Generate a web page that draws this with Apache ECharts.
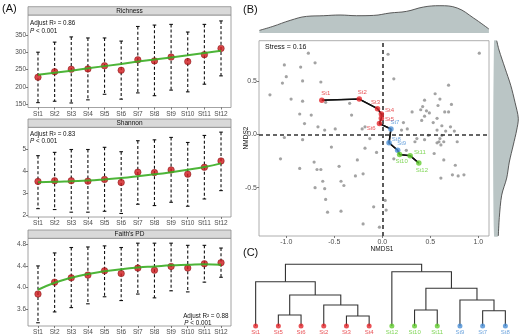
<!DOCTYPE html>
<html>
<head>
<meta charset="utf-8">
<script src="https://cdn.jsdelivr.net/npm/echarts@6/dist/echarts.min.js"></script>
<style>
  html, body { margin: 0; padding: 0; background: #fff; }
  #chart { width: 520px; height: 336px; }
</style>
</head>
<body>
<div id="chart"></div>
<script>
// ---- data ----
const sites = ['St1', 'St2', 'St3', 'St4', 'St5', 'St6', 'St7', 'St8', 'St9', 'St10', 'St11', 'St12']
const siteGroup = [0, 0, 0, 0, 0, 0, 1, 1, 1, 2, 2, 2]

const richMean = [228, 244, 251, 252, 261, 248, 278, 275, 286, 273, 293, 311]
const richLow = [155, 159, 154, 163, 179, 165, 183, 175, 191, 186, 208, 232]
const richHigh = [300, 329, 344, 341, 341, 332, 374, 378, 380, 358, 380, 390]
const richFit = [235, 241, 247, 254, 260, 266, 273, 279, 285, 291, 298, 304]
const richTicks = [150, 200, 250, 300, 350]

const shanMean = [3.53, 3.56, 3.56, 3.54, 3.62, 3.48, 3.95, 3.93, 4.05, 3.86, 4.17, 4.46]
const shanLow = [2.29, 2.25, 2.13, 2.13, 2.17, 2.07, 2.49, 2.43, 2.58, 2.40, 2.73, 3.11]
const shanHigh = [4.70, 4.85, 4.98, 4.98, 5.08, 4.88, 5.38, 5.42, 5.53, 5.30, 5.62, 5.77]
const shanFit = [3.49, 3.51, 3.54, 3.57, 3.62, 3.68, 3.76, 3.85, 3.95, 4.06, 4.18, 4.35]
const shanTicks = [2, 3, 4, 5]

const pdMean = [3.88, 4.10, 4.18, 4.23, 4.31, 4.26, 4.36, 4.32, 4.39, 4.36, 4.44, 4.46]
const pdLow = [3.35, 3.55, 3.63, 3.70, 3.83, 3.76, 3.88, 3.81, 3.94, 3.92, 4.10, 4.19]
const pdHigh = [4.40, 4.64, 4.74, 4.75, 4.77, 4.74, 4.82, 4.82, 4.82, 4.78, 4.78, 4.73]
const pdFit = [3.96, 4.09, 4.18, 4.25, 4.30, 4.34, 4.37, 4.39, 4.41, 4.42, 4.43, 4.42]
const pdTicks = [3.6, 4.0, 4.4, 4.8]

// NMDS samples (gray)
const nmdsPts = [
  [-0.77, 0.76], [-1.02, 0.65], [-0.70, 0.67], [-0.85, 0.63], [-1.00, 0.54], [-0.83, 0.50],
  [-1.04, 0.48], [-0.64, 0.49], [-1.17, 0.37], [-0.95, 0.33], [-0.83, 0.31], [-0.86, 0.19],
  [-0.74, 0.18], [-0.59, 0.30], [-0.34, 0.29], [-0.32, 0.18], [-0.81, 0.10], [-0.67, 0.07],
  [-0.60, 0.04], [-0.49, 0.05], [-0.21, 0.05], [-0.18, 0.07],
  [0.06, 0.75], [0.12, 0.52], [1.01, 0.76], [0.69, 0.46], [0.55, 0.38], [0.60, 0.33],
  [0.44, 0.32], [0.72, 0.28], [0.58, 0.27], [0.42, 0.26], [0.40, 0.23], [0.31, 0.21],
  [0.46, 0.22], [0.65, 0.21], [0.69, 0.21], [0.49, 0.20], [0.44, 0.17], [0.57, 0.15],
  [0.41, 0.13], [0.53, 0.11], [0.22, 0.11], [0.62, 0.08], [0.71, 0.07], [0.57, 0.04],
  [0.66, 0.03], [0.75, 0.03], [0.20, 0.04], [0.26, 0.05], [0.48, -0.01], [0.62, -0.01],
  [0.44, -0.05], [0.60, -0.04], [0.64, -0.07], [0.57, -0.08], [0.78, -0.07], [0.36, -0.04],
  [0.34, -0.07], [0.54, -0.18], [0.64, -0.24], [0.76, -0.29], [0.73, -0.38], [0.79, -0.39],
  [0.85, -0.38], [0.61, -0.41], [0.25, -0.15], [0.12, -0.23], [0.03, -0.62], [0.04, -0.71],
  [0.59, -0.07], [0.61, -0.10],
  [-1.02, -0.03], [-0.83, -0.05], [-1.06, -0.23], [-0.53, -0.12], [-0.71, -0.26], [-0.86, -0.32],
  [-0.68, -0.33], [-0.64, -0.33], [-0.45, -0.30], [-0.26, -0.24], [-0.18, -0.13], [-0.13, -0.04],
  [-0.06, -0.17], [-0.28, -0.39], [-0.20, -0.37], [-0.62, -0.44], [-0.43, -0.44], [-0.40, -0.48],
  [-0.70, -0.50], [-0.60, -0.51], [-0.59, -0.61], [-0.09, -0.68], [-0.57, -0.73], [-0.43, -0.72],
  [-0.20, -0.84], [-0.03, -0.87]
]
// site centroids (trajectory)
const trajX = [-0.63, -0.24, -0.05, -0.01, -0.01, -0.03, 0.09, 0.07, 0.16, 0.18, 0.29, 0.38]
const trajY = [0.32, 0.33, 0.24, 0.19, 0.15, 0.10, 0.05, -0.08, -0.15, -0.19, -0.20, -0.27]

// marginal densities
const topDensX = [-1.28, -1.14, -0.96, -0.79, -0.61, -0.44, -0.27, -0.09, 0.08, 0.25, 0.43, 0.60, 0.78, 0.95, 1.11]
const topDensH = [2.6, 6.6, 12.6, 16.6, 17.3, 18, 17.3, 17.6, 20, 21.6, 26, 27.3, 25, 15, 4]
const sideDensY = [0.877, 0.79, 0.62, 0.46, 0.30, 0.15, 0.04, -0.10, -0.26, -0.41, -0.57, -0.78, -0.953]
const sideDensW = [2.7, 5, 11, 16.7, 21, 24.3, 22.7, 19.3, 15.3, 12.7, 7.7, 5.3, 4.3]

// dendrogram
const leafOrder = ['St1', 'St5', 'St6', 'St2', 'St3', 'St4', 'St12', 'St10', 'St11', 'St9', 'St7', 'St8']
const merges = [['St5', 'St6'], ['St3', 'St4'], ['St2', 'm2'], ['m1', 'm3'], ['St1', 'm4'],
  ['St10', 'St11'], ['St7', 'St8'], ['St9', 'm7'], ['m6', 'm8'], ['St12', 'm9'], ['m5', 'm10']]
const mergeHeight = [0.178, 0.162, 0.340, 0.502, 0.718, 0.259, 0.248, 0.421, 0.611, 0.880, 1.0]

// ---- styling ----
const FONT = 'Liberation Sans, Arial, sans-serif'
const groupColors = ['#e3262b', '#4a8fd6', '#62cc2e']
const colorOf = (s) => groupColors[siteGroup[sites.indexOf(s)]]

const chart = echarts.init(document.getElementById('chart'))

const grids = []
const xAxes = []
const yAxes = []
const series = []
const graphic = []

function txt(x, y, text, size, opts = {}) {
  graphic.push({
    type: 'text', x, y, rotation: opts.rotation || 0,
    style: {
      text, fontSize: size, fontFamily: FONT, fill: opts.color || '#111',
      align: opts.align || 'left', verticalAlign: 'middle',
      textAlign: opts.align || 'left', textVerticalAlign: 'middle',
      rich: opts.rich
    }
  })
}

// ---- panel A ----
const panelsA = [
  { name: 'Richness', top: 15, height: 92.5, min: 141, max: 407, ticks: richTicks, mean: richMean, low: richLow, high: richHigh, fit: richFit, smooth: false, r2: '0.86', fmt: (v) => String(v) },
  { name: 'Shannon', top: 127.3, height: 89.7, min: 1.91, max: 5.99, ticks: shanTicks, mean: shanMean, low: shanLow, high: shanHigh, fit: shanFit, smooth: true, r2: '0.83', fmt: (v) => String(v) },
  { name: "Faith's PD", top: 238.3, height: 89.7, min: 3.29, max: 4.91, ticks: pdTicks, mean: pdMean, low: pdLow, high: pdHigh, fit: pdFit, smooth: true, r2: '0.88', fmt: (v) => v.toFixed(1) }
]
const A_LEFT = 28, A_W = 203
const siteIdx = sites.map((s, i) => i + 1)
const richAnno = {
  n: { fontSize: 6.3, fontFamily: FONT, fill: '#111' },
  i: { fontSize: 6.3, fontFamily: FONT, fill: '#111', fontStyle: 'italic' }
}

panelsA.forEach((p, gi) => {
  grids.push({ left: A_LEFT, top: p.top, width: A_W, height: p.height, show: true, borderColor: '#8c8c8c', borderWidth: 0.8, backgroundColor: '#fff' })
  xAxes.push({
    gridIndex: gi, type: 'value', min: 0.4, max: 12.6,
    axisLine: { show: false, onZero: false },
    axisTick: { show: true, length: 2, customValues: siteIdx, lineStyle: { color: '#444', width: 0.7 } },
    axisLabel: { customValues: siteIdx, formatter: (v) => 'St' + v, fontSize: 6.5, fontFamily: FONT, color: '#4d4d4d', margin: 3 },
    splitLine: { show: false }
  })
  yAxes.push({
    gridIndex: gi, type: 'value', min: p.min, max: p.max,
    axisLine: { show: false, onZero: false },
    axisTick: { show: true, length: 2, customValues: p.ticks, lineStyle: { color: '#444', width: 0.7 } },
    axisLabel: { customValues: p.ticks, formatter: p.fmt, fontSize: 6.5, fontFamily: FONT, color: '#4d4d4d', margin: 2 },
    splitLine: { show: false }
  })
  series.push({
    type: 'custom', xAxisIndex: gi, yAxisIndex: gi, silent: true, z: 2,
    data: siteIdx.map((x, i) => [x, p.low[i], p.high[i]]),
    encode: { x: 0, y: [1, 2] },
    renderItem: (params, api) => {
      const t = api.coord([api.value(0), api.value(2)])
      const b = api.coord([api.value(0), api.value(1)])
      const st = { stroke: '#111', lineWidth: 1.1 }
      return {
        type: 'group', children: [
          { type: 'line', shape: { x1: t[0], y1: t[1], x2: b[0], y2: b[1] }, style: { ...st, lineDash: [3, 2.2] } },
          { type: 'line', shape: { x1: t[0] - 1.8, y1: t[1], x2: t[0] + 1.8, y2: t[1] }, style: st },
          { type: 'line', shape: { x1: b[0] - 1.8, y1: b[1], x2: b[0] + 1.8, y2: b[1] }, style: st }
        ]
      }
    }
  })
  series.push({
    type: 'scatter', xAxisIndex: gi, yAxisIndex: gi, z: 3, silent: true,
    symbolSize: 6.5,
    itemStyle: { color: '#d0181c', borderColor: '#7a0d0d', borderWidth: 0.6 },
    data: siteIdx.map((x, i) => [x, p.mean[i]])
  })
  series.push({
    type: 'line', xAxisIndex: gi, yAxisIndex: gi, z: 4, silent: true,
    smooth: p.smooth, symbol: 'none',
    lineStyle: { color: '#3aad22', width: 2, opacity: 0.9 },
    data: siteIdx.map((x, i) => [x, p.fit[i]])
  })
  // strip header
  graphic.push({ type: 'rect', shape: { x: A_LEFT, y: p.top - 8.3, width: A_W, height: 8.3 }, style: { fill: '#d9d9d9', stroke: '#8c8c8c', lineWidth: 0.8 } })
  txt(A_LEFT + A_W / 2, p.top - 4.1, p.name, 6.5, { align: 'center' })
})
// R² annotations
txt(30, 23.7, '{n|Adjust R² = 0.86}', 6.3, { rich: richAnno })
txt(30, 31, '{i|P}{n| < 0.001}', 6.3, { rich: richAnno })
txt(30, 134.3, '{n|Adjust R² = 0.83}', 6.3, { rich: richAnno })
txt(30, 141.7, '{i|P}{n| < 0.001}', 6.3, { rich: richAnno })
txt(228.5, 316, '{n|Adjust R² = 0.88}', 6.3, { rich: richAnno, align: 'right' })
txt(184.3, 323.3, '{i|P}{n| < 0.001}', 6.3, { rich: richAnno })

// ---- panel B ----
const bX = [-1, -0.5, 0, 0.5, 1]
const bY = [-0.5, 0, 0.5]
const xMin = -1.284, xMax = 1.111, yMin = -0.953, yMax = 0.877
const gS = grids.length
grids.push({ left: 259, top: 40.7, width: 230, height: 195.3, show: true, borderColor: '#9a9a9a', borderWidth: 0.8, backgroundColor: '#fff' })
xAxes.push({
  gridIndex: gS, type: 'value', min: xMin, max: xMax,
  axisLine: { show: false, onZero: false },
  axisTick: { show: true, length: 2, customValues: bX, lineStyle: { color: '#444', width: 0.7 } },
  axisLabel: { customValues: bX, formatter: (v) => v.toFixed(1), fontSize: 7, fontFamily: FONT, color: '#4d4d4d', margin: 3 },
  splitLine: { show: false }
})
yAxes.push({
  gridIndex: gS, type: 'value', min: yMin, max: yMax,
  axisLine: { show: false, onZero: false },
  axisTick: { show: true, length: 2, customValues: bY, lineStyle: { color: '#444', width: 0.7 } },
  axisLabel: { customValues: bY, formatter: (v) => v.toFixed(1), fontSize: 7, fontFamily: FONT, color: '#4d4d4d', margin: 2 },
  splitLine: { show: false }
})
series.push({
  type: 'scatter', xAxisIndex: gS, yAxisIndex: gS, z: 2, silent: true,
  symbolSize: 3.2, itemStyle: { color: '#8c8c8c' },
  data: nmdsPts,
  markLine: {
    silent: true, symbol: 'none', label: { show: false },
    lineStyle: { type: [4, 3], color: '#333', width: 1.6 },
    data: [{ xAxis: 0 }, { yAxis: 0 }]
  }
})
series.push({
  type: 'line', xAxisIndex: gS, yAxisIndex: gS, z: 3, silent: true,
  symbol: 'none', lineStyle: { color: '#111', width: 1.5 },
  data: trajX.map((x, i) => [x, trajY[i]]),
  markLine: {
    silent: true, symbol: ['none', 'arrow'], symbolSize: [0, 4.5], label: { show: false },
    lineStyle: { type: 'solid', color: '#111', width: 1.3 },
    data: trajX.slice(1).map((x, i) => [{ coord: [trajX[i], trajY[i]] }, { coord: [x, trajY[i + 1]] }])
  }
})
// label placement for the trajectory points
const labelPos = [
  ['top', [4, 0]], ['top', [3, 0]], ['top', [-2, 0]], ['right', [0, -4]], ['right', [0, 1]], ['left', [0, 5]],
  ['top', [4, 0]], ['right', [-1, -3]], ['top', [4, 0]], ['bottom', [2, 0]], ['right', [0, -3]], ['bottom', [3, 0]]
]
series.push({
  type: 'scatter', xAxisIndex: gS, yAxisIndex: gS, z: 5, silent: true,
  symbolSize: 5.5,
  data: sites.map((s, i) => ({
    value: [trajX[i], trajY[i]], name: s,
    itemStyle: { color: colorOf(s) },
    label: { position: labelPos[i][0], offset: labelPos[i][1], color: colorOf(s) }
  })),
  label: { show: true, formatter: '{b}', fontSize: 6, fontFamily: FONT, distance: 1 }
})
txt(265, 47, 'Stress = 0.16', 7)
txt(382, 249.5, 'NMDS1', 6.5, { align: 'center' })
txt(246, 138, 'NMDS2', 6.5, { align: 'center', rotation: Math.PI / 2 })

// top density
const gT = grids.length
grids.push({ left: 259, top: 5, width: 230, height: 28 })
xAxes.push({ gridIndex: gT, type: 'value', min: xMin, max: xMax, show: false })
yAxes.push({ gridIndex: gT, type: 'value', min: 0, max: 28, show: false })
series.push({
  type: 'line', xAxisIndex: gT, yAxisIndex: gT, silent: true, smooth: 0.4, symbol: 'none',
  lineStyle: { color: '#4a4a4a', width: 0.9 },
  areaStyle: { color: '#bac5c5', opacity: 1 },
  data: topDensX.map((x, i) => [x, topDensH[i]])
})

// side density
const gR = grids.length
grids.push({ left: 494, top: 40.7, width: 26, height: 195.3 })
xAxes.push({ gridIndex: gR, type: 'value', min: 0, max: 26, show: false })
yAxes.push({ gridIndex: gR, type: 'value', min: yMin, max: yMax, show: false })
series.push({
  type: 'custom', xAxisIndex: gR, yAxisIndex: gR, silent: true,
  data: sideDensY.map((y, i) => [sideDensW[i], y]),
  encode: { x: 0, y: 1 },
  renderItem: (params, api) => {
    if (params.dataIndex !== 0) return null
    const pts = sideDensY.map((y, i) => api.coord([sideDensW[i], y]))
    const base = [api.coord([0, sideDensY[sideDensY.length - 1]]), api.coord([0, sideDensY[0]])]
    return {
      type: 'group', children: [
        { type: 'polygon', shape: { points: pts.concat(base), smooth: 0.3 }, style: { fill: '#bac5c5' } },
        { type: 'polyline', shape: { points: pts, smooth: 0.3 }, style: { stroke: '#4a4a4a', lineWidth: 0.9, fill: null } }
      ]
    }
  }
})

// ---- panel C: dendrogram ----
const pos = {}
leafOrder.forEach((s, i) => { pos[s] = { x: i, h: 0 } })
merges.forEach(([a, b], k) => { pos['m' + (k + 1)] = { x: (pos[a].x + pos[b].x) / 2, h: mergeHeight[k] } })
const gD = grids.length
grids.push({ left: 244.3, top: 264.3, width: 272.4, height: 61.7 })
xAxes.push({ gridIndex: gD, type: 'value', min: -0.5, max: 11.5, show: false })
yAxes.push({ gridIndex: gD, type: 'value', min: 0, max: 1, show: false })
series.push({
  type: 'custom', xAxisIndex: gD, yAxisIndex: gD, silent: true, z: 2,
  data: merges.map(([a, b], k) => [pos[a].x, pos[a].h, pos[b].x, pos[b].h, mergeHeight[k]]),
  encode: { x: [0, 2], y: [1, 3, 4] },
  renderItem: (params, api) => {
    const p1 = api.coord([api.value(0), api.value(1)])
    const p2 = api.coord([api.value(0), api.value(4)])
    const p3 = api.coord([api.value(2), api.value(4)])
    const p4 = api.coord([api.value(2), api.value(3)])
    return { type: 'polyline', shape: { points: [p1, p2, p3, p4] }, style: { stroke: '#333', lineWidth: 1.1, fill: null } }
  }
})
series.push({
  type: 'scatter', xAxisIndex: gD, yAxisIndex: gD, z: 3, silent: true,
  symbolSize: 5,
  data: leafOrder.map((s, i) => ({ value: [i, 0], name: s, itemStyle: { color: colorOf(s) }, label: { color: colorOf(s) } })),
  label: { show: true, position: 'bottom', distance: 0.5, formatter: '{b}', fontSize: 6, fontFamily: FONT }
})

// panel letters
txt(2, 9, '(A)', 11)
txt(243, 10, '(B)', 11)
txt(243, 253, '(C)', 11)

chart.setOption({
  animation: false,
  backgroundColor: '#fff',
  textStyle: { fontFamily: FONT },
  grid: grids,
  xAxis: xAxes,
  yAxis: yAxes,
  series,
  graphic
})
</script>
</body>
</html>
